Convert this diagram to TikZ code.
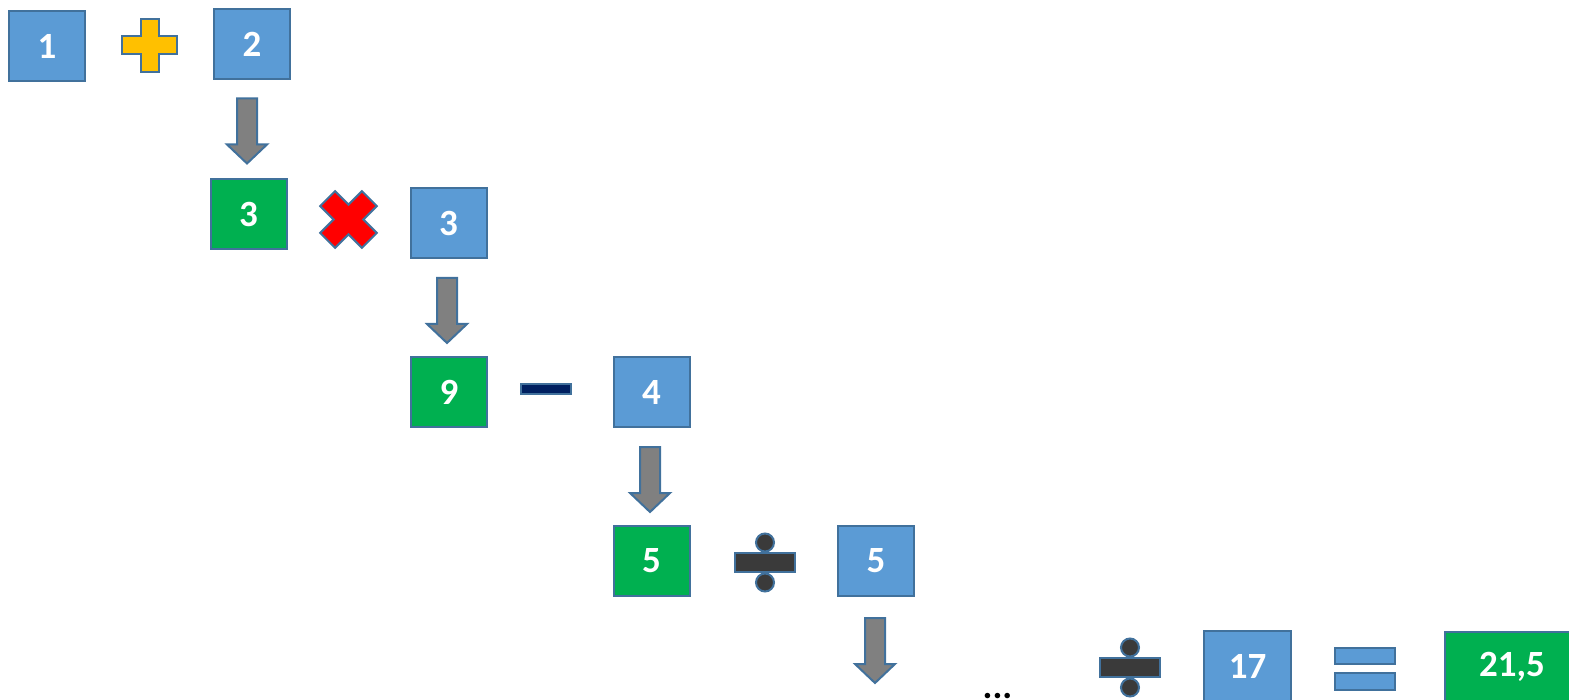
\documentclass[tikz,border=0pt]{standalone}
\usepackage{fontspec}
\setmainfont{Carlito}
\begin{document}
\begin{tikzpicture}[x=1pt,y=-1pt,
  every node/.style={font=\fontsize{37}{40}\selectfont\bfseries},
  edge/.style={draw=bordc,line width=2pt,line join=miter},
  numbox/.style={edge,fill=boxblue,text=white,inner sep=0pt,minimum width=76pt,minimum height=70pt},
  resbox/.style={numbox,fill=boxgreen},
  arrowsty/.style={edge,fill=arrgray}]
\definecolor{boxblue}{HTML}{5B9BD5}
\definecolor{bordc}{HTML}{41719C}
\definecolor{boxgreen}{HTML}{00B050}
\definecolor{arrgray}{HTML}{808080}
\definecolor{plusyel}{HTML}{FFC000}
\definecolor{minusnavy}{HTML}{002060}
\definecolor{divdark}{HTML}{3A3A3A}
\tikzset{
  blockarrow/.pic={\draw[arrowsty] (-10,0) -- (10,0) -- (10,46) -- (20,46) -- (0,65) -- (-20,46) -- (-10,46) -- cycle;},
  plussign/.pic={\draw[edge,fill=plusyel] (-9,-26.5) -- (9,-26.5) -- (9,-9) -- (27.5,-9) -- (27.5,9) -- (9,9) -- (9,26.5) -- (-9,26.5) -- (-9,9) -- (-27.5,9) -- (-27.5,-9) -- (-9,-9) -- cycle;},
  timessign/.pic={\draw[edge,fill=red,rotate=45] (-10.5,-29.5) -- (10.5,-29.5) -- (10.5,-10.5) -- (29.5,-10.5) -- (29.5,10.5) -- (10.5,10.5) -- (10.5,29.5) -- (-10.5,29.5) -- (-10.5,10.5) -- (-29.5,10.5) -- (-29.5,-10.5) -- (-10.5,-10.5) -- cycle;},
  dividesign/.pic={\draw[edge,fill=divdark] (-30,-9.5) rectangle (30,9.5);
    \draw[edge,fill=divdark] (0,-20) circle (9);
    \draw[edge,fill=divdark] (0,20) circle (9);},
}
\useasboundingbox (0,0) rectangle (1569,700);
% row 1
\node[numbox] (n1) at (47,46) {1};
\path (149.5,45.5) pic {plussign};
\node[numbox] (n2) at (252,44.5) {2};
\path (n2.south) ++(-5,18) pic {blockarrow};
% row 2
\node[resbox] (r3) at (248.5,214.5) {3};
\path (348.5,219.5) pic {timessign};
\node[numbox] (n3) at (448.5,223) {3};
\path (n3.south) ++(-1.5,19) pic {blockarrow};
% row 3
\node[resbox] (r9) at (449,392) {9};
\draw[edge,fill=minusnavy] (520.5,384.5) rectangle (570.5,394.5);
\node[numbox] (n4) at (651.5,392) {4};
\path (n4.south) ++(-1.5,19) pic {blockarrow};
% row 4
\node[resbox] (r5) at (651.5,560.5) {5};
\path (765,562.5) pic {dividesign};
\node[numbox] (n5) at (876,561) {5};
\path (n5.south) ++(-1,21) pic {blockarrow};
% row 5
\node[anchor=base,text=black,inner sep=0pt] (dots) at (997.5,698) {...};
\path (1130,667.5) pic {dividesign};
\node[numbox,minimum width=87pt,minimum height=70pt] (n17) at (1247.5,666) {17};
\draw[edge,fill=boxblue] (1335,647.5) rectangle (1394.5,664);
\draw[edge,fill=boxblue] (1335,672.5) rectangle (1394.5,689.5);
\node[resbox,minimum width=134pt,minimum height=70pt,text width=134pt,align=center] (r215) at (1512,667) {21,5};
\end{tikzpicture}
\end{document}
